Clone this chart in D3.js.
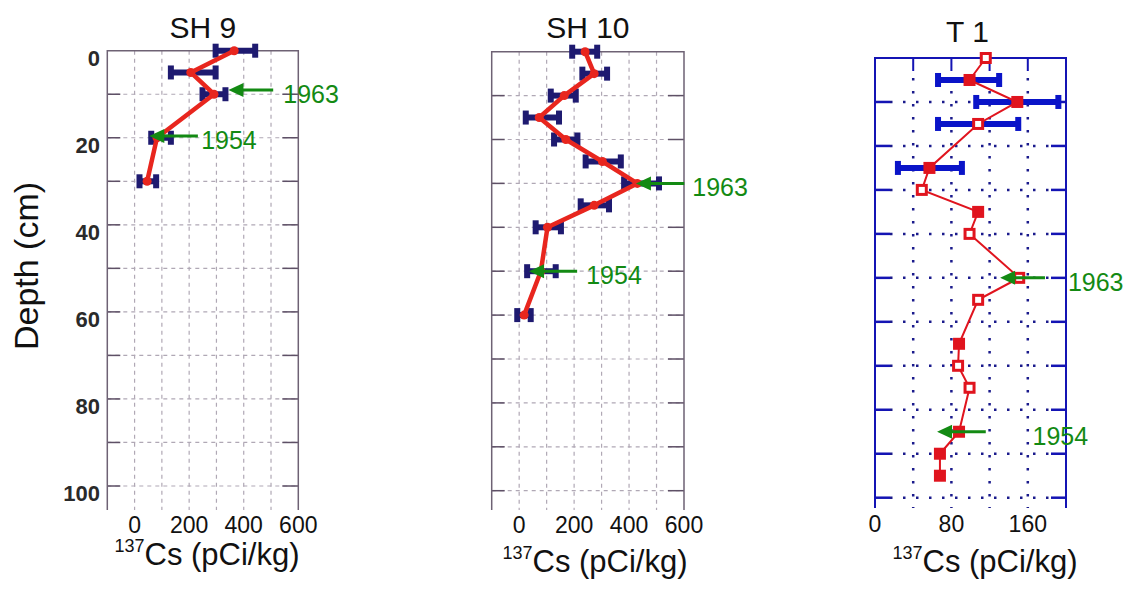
<!DOCTYPE html>
<html>
<head>
<meta charset="utf-8">
<script src="https://cdn.jsdelivr.net/npm/d3@7"></script>
<style>
  body { margin: 0; background: #fff; }
  text { font-family: "Liberation Sans", Arial, sans-serif; }
</style>
</head>
<body>
<script>
      var w = 1131;
      var h = 589;

      // SH 9 core
      var sh9Depth = [0, 5, 10, 20, 30];
      var sh9Cs = [365, 206, 291, 82, 46];
      var sh9Lo = [297, 133, 249, 61, 18];
      var sh9Hi = [442, 297, 333, 133, 79];

      // SH 10 core
      var sh10Depth = [0, 5, 10, 15, 20, 25, 30, 35, 40, 50, 60];
      var sh10Cs = [240, 273, 164, 73, 170, 303, 430, 273, 103, 79, 18];
      var sh10Lo = [193, 230, 115, 24, 127, 242, 382, 224, 60, 29, -7];
      var sh10Hi = [284, 320, 206, 145, 212, 370, 509, 327, 152, 133, 42];

      // T 1 core
      var t1Depth = [0, 5, 10, 15, 25, 30, 35, 40, 50, 55, 65, 70, 75, 85, 90, 95];
      var t1Cs = [116, 99, 149, 108, 57, 49, 108, 99, 151, 108, 88, 87, 99, 88, 68, 68];
      var t1Hollow = [1, 0, 0, 1, 0, 1, 0, 1, 1, 1, 0, 1, 1, 0, 0, 0];
      var t1Lo = [null, 66, 106, 66, 24, null, null, null, null, null, null, null, null, null, null, null];
      var t1Hi = [null, 130, 192, 150, 91, null, null, null, null, null, null, null, null, null, null, null];

      // tick labels
      var depthTicks = [0, 20, 40, 60, 80, 100];
      var shTicks = [0, 200, 400, 600];
      var t1Ticks = [0, 80, 160];

      // dating marks: year, depth, arrow tip, arrow tail, label start (in Cs units)
      var sh9Years = ["1963", "1954"];
      var sh9YearDepth = [9, 19.6];
      var sh9YearTip = [344, 54];
      var sh9YearTail = [508, 232];
      var sh9YearLabel = [545, 244];

      var sh10Years = ["1963", "1954"];
      var sh10YearDepth = [30, 50];
      var sh10YearTip = [425, 36];
      var sh10YearTail = [601, 211];
      var sh10YearLabel = [630, 244];

      var t1Years = ["1963", "1954"];
      var t1YearDepth = [50, 85];
      var t1YearTip = [131, 65];
      var t1YearTail = [178, 116];
      var t1YearLabel = [202, 165];

      var green = "#138a13";

      var svg = d3.select("body")
                  .append("svg")
                  .attr("width", w)
                  .attr("height", h);

      function zip(depth, cs, lo, hi, hollow) {
        return depth.map(function(d, i) {
          return {depth: d, cs: cs[i], lo: lo ? lo[i] : null, hi: hi ? hi[i] : null,
                  hollow: hollow ? hollow[i] : 0};
        });
      }

      function yearMarks(g, x, y, years, depth, tip, tail, label) {
        var marks = years.map(function(yr, i) {
          return {year: yr, depth: depth[i], tip: tip[i], tail: tail[i], label: label[i]};
        });
        g.selectAll(".yr-line")
         .data(marks)
         .enter()
         .append("line")
         .attr("x1", function(d){return x(d.tail);})
         .attr("x2", function(d){return x(d.tip) + 10;})
         .attr("y1", function(d){return y(d.depth);})
         .attr("y2", function(d){return y(d.depth);})
         .attr("stroke", green)
         .attr("stroke-width", 3);
        g.selectAll(".yr-head")
         .data(marks)
         .enter()
         .append("path")
         .attr("d", function(d){
           var tx = x(d.tip), ty = y(d.depth);
           return "M" + tx + "," + ty + "L" + (tx + 15) + "," + (ty - 7) + "L" + (tx + 15) + "," + (ty + 7) + "Z";
         })
         .attr("fill", green);
        g.selectAll(".yr-text")
         .data(marks)
         .enter()
         .append("text")
         .text(function(d){return d.year;})
         .attr("x", function(d){return x(d.label);})
         .attr("y", function(d){return y(d.depth) + 13;})
         .attr("font-size", "25px")
         .attr("fill", green);
      }

      function xTitle(cx, baseline) {
        var t = svg.append("text")
                   .attr("x", cx)
                   .attr("y", baseline)
                   .attr("text-anchor", "middle")
                   .attr("fill", "#111");
        t.append("tspan").attr("font-size", "18px").attr("dy", -13).text("137");
        t.append("tspan").attr("font-size", "31px").attr("dy", 13).text("Cs (pCi/kg)");
      }

      // SH style panel (grey frame, dashed grid, navy error bars)
      function shPanel(title, data, x0, x1, yTop, y100, years) {
        var x = d3.scaleLinear().domain([-100, 600]).range([x0, x1]);
        var y = d3.scaleLinear().domain([0, 100]).range([yTop, y100]);
        var bottom = 510;
        var g = svg.append("g");

        var hGrid = d3.range(10, 101, 10);
        var vGrid = d3.range(0, 501, 100);

        g.selectAll(".hg")
         .data(hGrid)
         .enter()
         .append("line")
         .attr("x1", x0).attr("x2", x1)
         .attr("y1", function(d){return y(d);})
         .attr("y2", function(d){return y(d);})
         .attr("stroke", "#b0a8b5")
         .attr("stroke-width", 1.2)
         .attr("stroke-dasharray", "4,4");
        g.selectAll(".vg")
         .data(vGrid)
         .enter()
         .append("line")
         .attr("x1", function(d){return x(d);})
         .attr("x2", function(d){return x(d);})
         .attr("y1", yTop).attr("y2", bottom)
         .attr("stroke", "#b0a8b5")
         .attr("stroke-width", 1.2)
         .attr("stroke-dasharray", "4,4");

        g.selectAll(".tl")
         .data(hGrid)
         .enter()
         .append("line")
         .attr("x1", x0).attr("x2", x0 + 13)
         .attr("y1", function(d){return y(d);})
         .attr("y2", function(d){return y(d);})
         .attr("stroke", "#5e5066").attr("stroke-width", 1.5);
        g.selectAll(".tr")
         .data(hGrid)
         .enter()
         .append("line")
         .attr("x1", x1 - 16).attr("x2", x1)
         .attr("y1", function(d){return y(d);})
         .attr("y2", function(d){return y(d);})
         .attr("stroke", "#5e5066").attr("stroke-width", 1.5);

        g.append("path")
         .attr("d", "M" + x0 + "," + bottom + "V" + yTop + "H" + x1 + "V" + bottom)
         .attr("fill", "none")
         .attr("stroke", "#6e6274")
         .attr("stroke-width", 1.5);

        // error bars
        g.selectAll(".eb")
         .data(data)
         .enter()
         .append("line")
         .attr("x1", function(d){return x(d.lo);})
         .attr("x2", function(d){return x(d.hi);})
         .attr("y1", function(d){return y(d.depth);})
         .attr("y2", function(d){return y(d.depth);})
         .attr("stroke", "#1e1a70")
         .attr("stroke-width", 6);
        var caps = [];
        data.forEach(function(d){ caps.push({v: d.lo, depth: d.depth}); caps.push({v: d.hi, depth: d.depth}); });
        g.selectAll(".cap")
         .data(caps)
         .enter()
         .append("rect")
         .attr("x", function(d){return x(d.v) - 3;})
         .attr("y", function(d){return y(d.depth) - 7;})
         .attr("width", 6)
         .attr("height", 14)
         .attr("fill", "#1e1a70");

        g.append("path")
         .datum(data)
         .attr("d", d3.line().x(function(d){return x(d.cs);}).y(function(d){return y(d.depth);}))
         .attr("fill", "none")
         .attr("stroke", "#e8261e")
         .attr("stroke-width", 4.5)
         .attr("stroke-linejoin", "round");
        g.selectAll(".pt")
         .data(data)
         .enter()
         .append("circle")
         .attr("cx", function(d){return x(d.cs);})
         .attr("cy", function(d){return y(d.depth);})
         .attr("r", 4.5)
         .attr("fill", "#e8261e");

        g.selectAll(".xt")
         .data(shTicks)
         .enter()
         .append("text")
         .text(function(d){return d;})
         .attr("x", function(d){return x(d);})
         .attr("y", 533)
         .attr("text-anchor", "middle")
         .attr("font-size", "23px")
         .attr("fill", "#111");

        g.append("text")
         .text(title)
         .attr("x", (x0 + x1) / 2)
         .attr("y", 38)
         .attr("text-anchor", "middle")
         .attr("font-size", "30px")
         .attr("fill", "#111");

        yearMarks(g, x, y, years[0], years[1], years[2], years[3], years[4]);
        return {x: x, y: y};
      }

      var p1 = shPanel("SH 9", zip(sh9Depth, sh9Cs, sh9Lo, sh9Hi), 107.3, 298.3, 50.7, 486,
                       [sh9Years, sh9YearDepth, sh9YearTip, sh9YearTail, sh9YearLabel]);
      var p2 = shPanel("SH 10", zip(sh10Depth, sh10Cs, sh10Lo, sh10Hi), 491.7, 684, 51.7, 490.7,
                       [sh10Years, sh10YearDepth, sh10YearTip, sh10YearTail, sh10YearLabel]);

      // depth axis labels on SH 9
      svg.selectAll(".yl")
         .data(depthTicks)
         .enter()
         .append("text")
         .text(function(d){return d;})
         .attr("x", 100)
         .attr("y", function(d){return p1.y(d) + 15;})
         .attr("text-anchor", "end")
         .attr("font-size", "22px")
         .attr("font-weight", "bold")
         .attr("fill", "#2a2a2a");

      svg.append("text")
         .text("Depth (cm)")
         .attr("transform", "translate(38,266) rotate(-90)")
         .attr("text-anchor", "middle")
         .attr("font-size", "34px")
         .attr("fill", "#111");

      // T 1 panel (blue frame, dotted grid)
      var tx0 = 875, tx1 = 1066, tTop = 58, tBottom = 508;
      var xT = d3.scaleLinear().domain([0, 200]).range([tx0, tx1]);
      var yT = d3.scaleLinear().domain([0, 100]).range([tTop, 497.7]);
      var gT = svg.append("g");
      var blue = "#1414b4";
      var tH = d3.range(10, 101, 10);
      var tV = [40, 80, 120, 160];

      gT.selectAll(".hg")
        .data(tH)
        .enter()
        .append("line")
        .attr("x1", tx0 + 15).attr("x2", tx1 - 15)
        .attr("y1", function(d){return yT(d);})
        .attr("y2", function(d){return yT(d);})
        .attr("stroke", "#1a1a8c")
        .attr("stroke-width", 2.5)
        .attr("stroke-dasharray", "2.5,10.5");
      gT.selectAll(".vg")
        .data(tV)
        .enter()
        .append("line")
        .attr("x1", function(d){return xT(d);})
        .attr("x2", function(d){return xT(d);})
        .attr("y1", tTop + 20).attr("y2", tBottom)
        .attr("stroke", "#1a1a8c")
        .attr("stroke-width", 2.5)
        .attr("stroke-dasharray", "2.5,10.5");
      gT.selectAll(".tt")
        .data(tV)
        .enter()
        .append("line")
        .attr("x1", function(d){return xT(d);})
        .attr("x2", function(d){return xT(d);})
        .attr("y1", tTop).attr("y2", tTop + 13)
        .attr("stroke", blue).attr("stroke-width", 2);
      gT.selectAll(".tl")
        .data(tH)
        .enter()
        .append("line")
        .attr("x1", tx0).attr("x2", tx0 + 15)
        .attr("y1", function(d){return yT(d);})
        .attr("y2", function(d){return yT(d);})
        .attr("stroke", blue).attr("stroke-width", 2.5);
      gT.selectAll(".tr")
        .data(tH)
        .enter()
        .append("line")
        .attr("x1", tx1 - 15).attr("x2", tx1)
        .attr("y1", function(d){return yT(d);})
        .attr("y2", function(d){return yT(d);})
        .attr("stroke", blue).attr("stroke-width", 2.5);
      gT.append("path")
        .attr("d", "M" + tx0 + "," + tBottom + "V" + tTop + "H" + tx1 + "V" + tBottom)
        .attr("fill", "none")
        .attr("stroke", blue)
        .attr("stroke-width", 2);

      var t1Data = zip(t1Depth, t1Cs, t1Lo, t1Hi, t1Hollow);
      var t1Err = t1Data.filter(function(d){return d.lo !== null;});
      var t1Caps = [];
      t1Err.forEach(function(d){ t1Caps.push({v: d.lo, depth: d.depth}); t1Caps.push({v: d.hi, depth: d.depth}); });

      gT.selectAll(".eb")
        .data(t1Err)
        .enter()
        .append("line")
        .attr("x1", function(d){return xT(d.lo);})
        .attr("x2", function(d){return xT(d.hi);})
        .attr("y1", function(d){return yT(d.depth);})
        .attr("y2", function(d){return yT(d.depth);})
        .attr("stroke", "#0a14c8")
        .attr("stroke-width", 6);
      gT.selectAll(".cap")
        .data(t1Caps)
        .enter()
        .append("rect")
        .attr("x", function(d){return xT(d.v) - 3;})
        .attr("y", function(d){return yT(d.depth) - 7;})
        .attr("width", 6)
        .attr("height", 14)
        .attr("fill", "#0a14c8");

      gT.append("path")
        .datum(t1Data)
        .attr("d", d3.line().x(function(d){return xT(d.cs);}).y(function(d){return yT(d.depth);}))
        .attr("fill", "none")
        .attr("stroke", "#e0141e")
        .attr("stroke-width", 2);
      gT.selectAll(".pt")
        .data(t1Data)
        .enter()
        .append("rect")
        .attr("x", function(d){return xT(d.cs) - 4.5;})
        .attr("y", function(d){return yT(d.depth) - 4.5;})
        .attr("width", 9)
        .attr("height", 9)
        .attr("fill", function(d){return d.hollow ? "#fff" : "#e0141e";})
        .attr("stroke", "#e0141e")
        .attr("stroke-width", 3);

      gT.selectAll(".xt")
        .data(t1Ticks)
        .enter()
        .append("text")
        .text(function(d){return d;})
        .attr("x", function(d){return xT(d);})
        .attr("y", 532)
        .attr("text-anchor", "middle")
        .attr("font-size", "23px")
        .attr("fill", "#111");

      gT.append("text")
        .text("T 1")
        .attr("x", (tx0 + tx1) / 2 - 3)
        .attr("y", 42)
        .attr("text-anchor", "middle")
        .attr("font-size", "30px")
        .attr("fill", "#111");

      yearMarks(gT, xT, yT, t1Years, t1YearDepth, t1YearTip, t1YearTail, t1YearLabel);

      xTitle(207, 565);
      xTitle(595, 572);
      xTitle(985, 572);
</script>
</body>
</html>
